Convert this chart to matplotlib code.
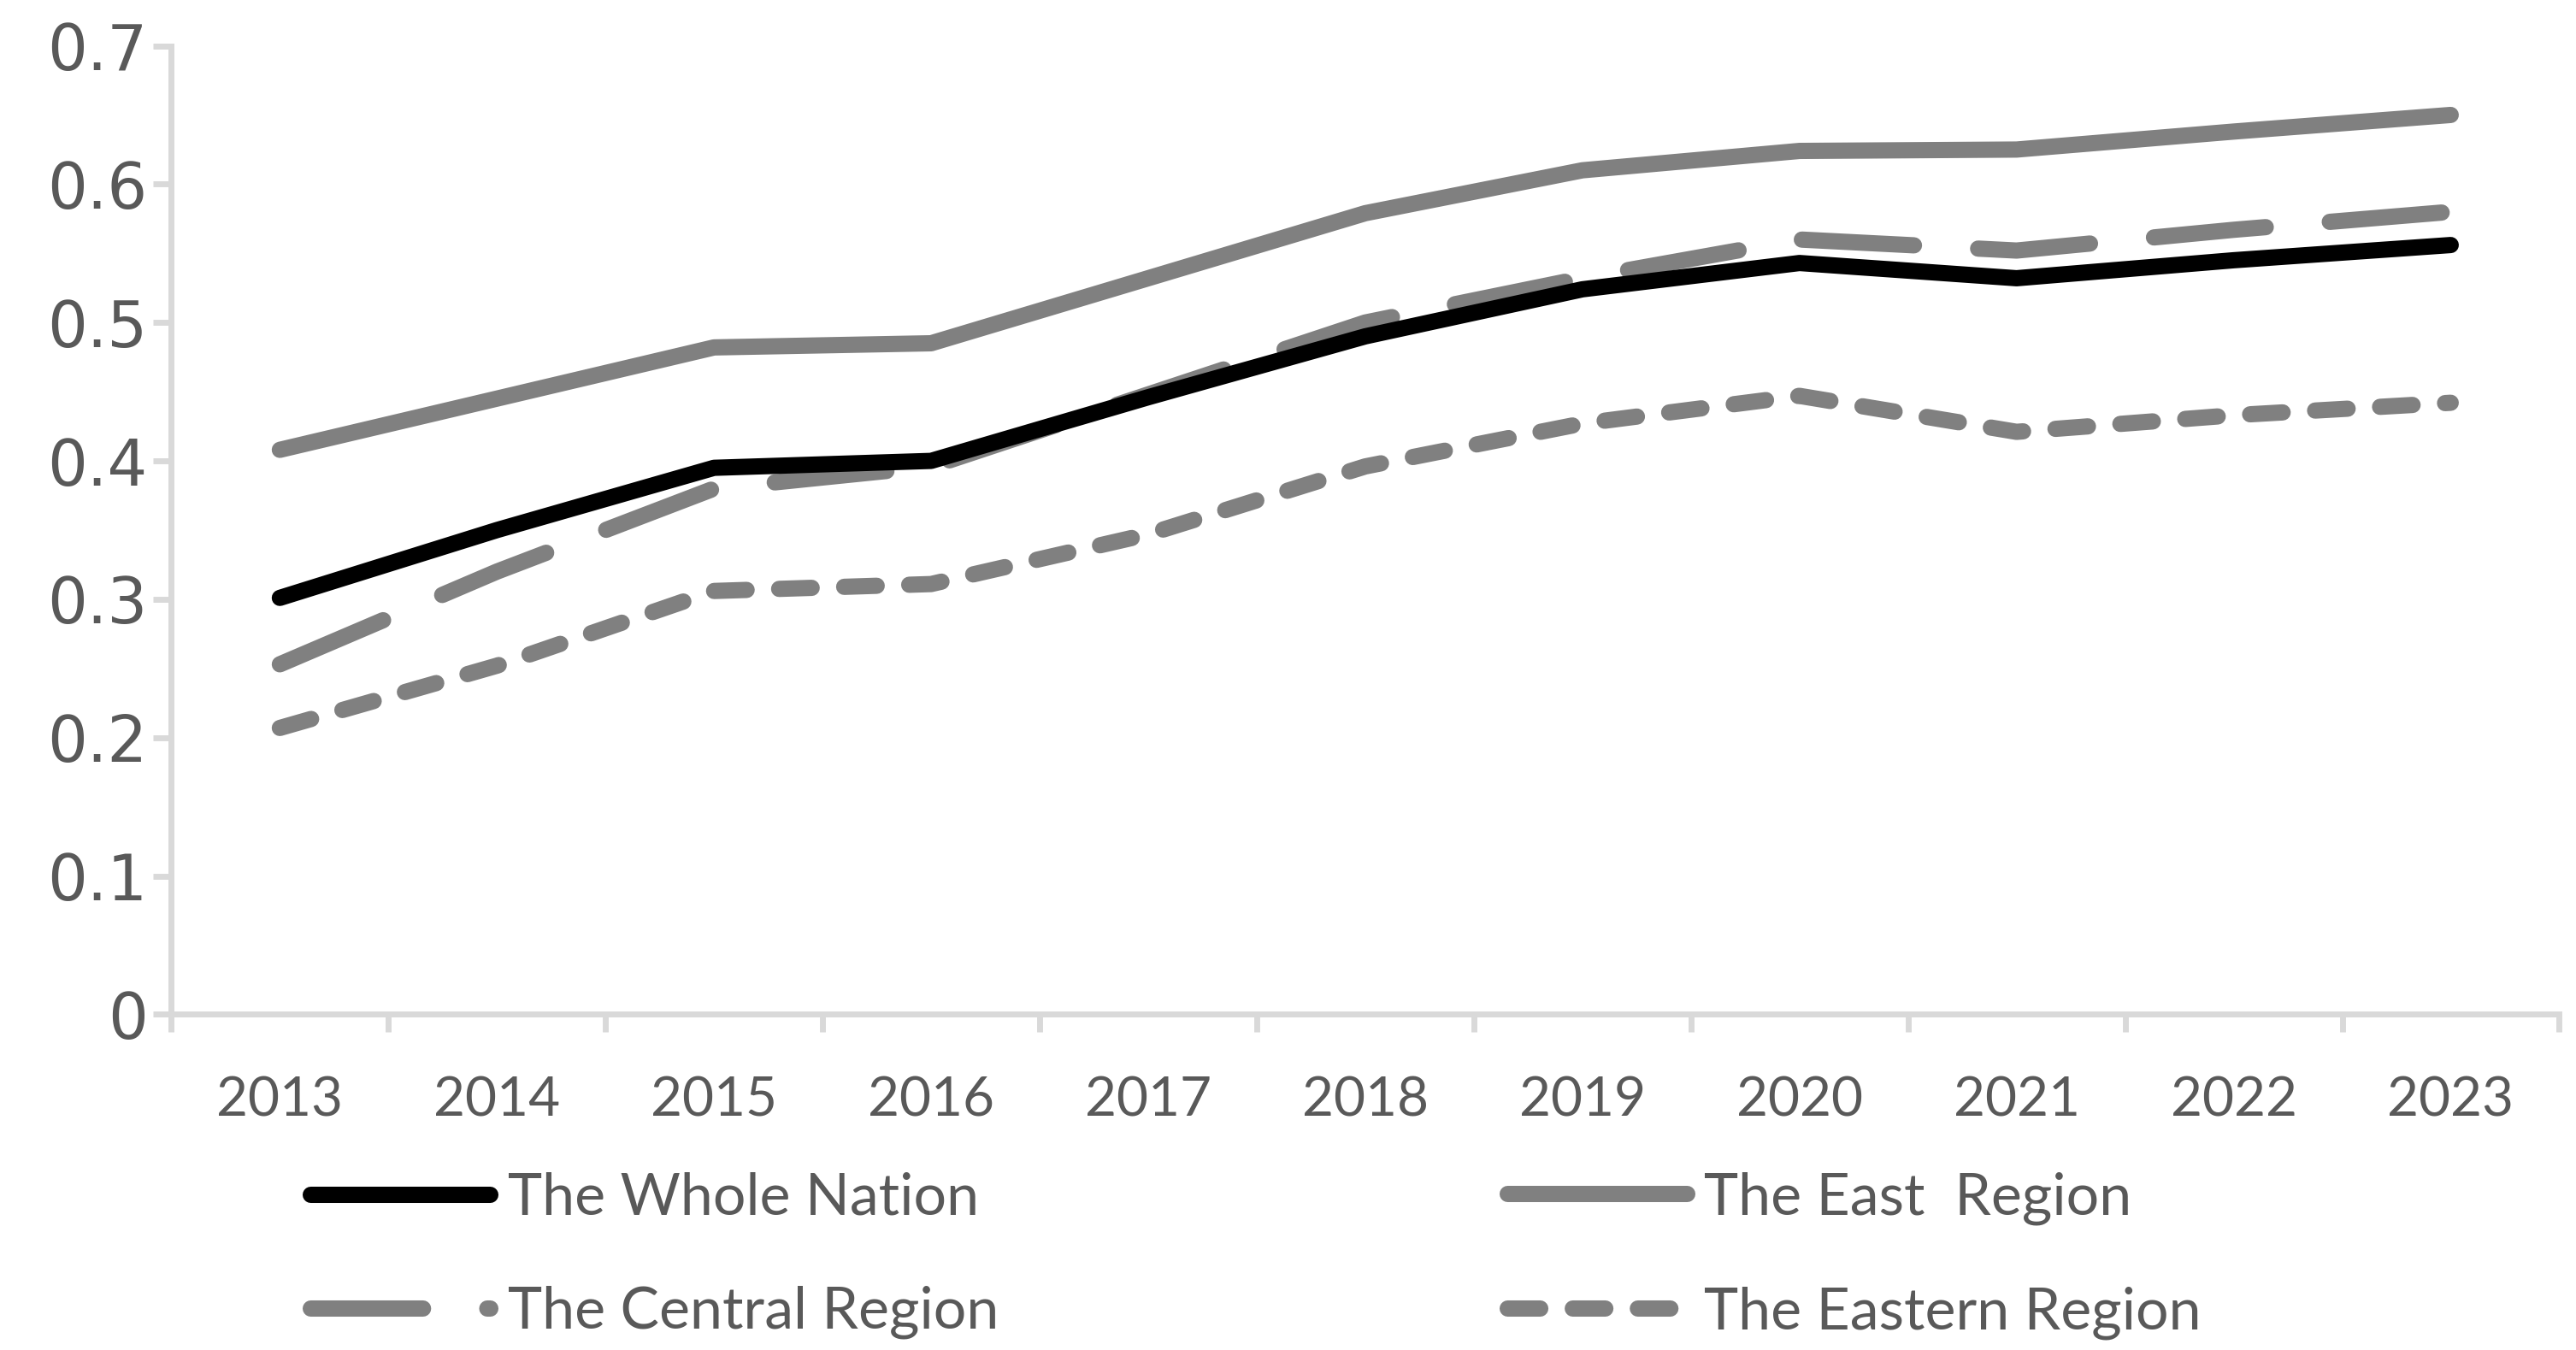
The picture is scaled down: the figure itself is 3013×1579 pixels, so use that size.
import numpy as np
import matplotlib
matplotlib.use("Agg")
import matplotlib.pyplot as plt

# values
years = ["2013", "2014", "2015", "2016", "2017", "2018", "2019", "2020", "2021", "2022", "2023"]
whole_nation = [0.301, 0.350, 0.395, 0.400, 0.446, 0.490, 0.524, 0.543, 0.532, 0.545, 0.556]
east_region = [0.408, 0.445, 0.482, 0.485, 0.532, 0.579, 0.610, 0.624, 0.625, 0.638, 0.650]
central_region = [0.253, 0.320, 0.380, 0.396, 0.448, 0.500, 0.532, 0.560, 0.552, 0.567, 0.580]
eastern_region = [0.207, 0.252, 0.306, 0.311, 0.347, 0.396, 0.427, 0.447, 0.421, 0.433, 0.442]
y_ticks = [0, 0.1, 0.2, 0.3, 0.4, 0.5, 0.6, 0.7]
y_tick_labels = ["0", "0.1", "0.2", "0.3", "0.4", "0.5", "0.6", "0.7"]

GRAY = "#808080"
TEXT = "#595959"
AXIS = "#D9D9D9"
LW = 13.7

fig = plt.figure(figsize=(30.13, 15.79), dpi=100)
ax = fig.add_axes([0.0665, 0.2486, 0.9270, 0.7175])

x = np.arange(len(years))
common = dict(solid_capstyle="round", dash_capstyle="round", solid_joinstyle="round",
              dash_joinstyle="round")

l_whole, = ax.plot(x, whole_nation, color="black", lw=LW, label="The Whole Nation", zorder=4, **common)
l_east, = ax.plot(x, east_region, color=GRAY, lw=LW, label="The East  Region", zorder=3, **common)
l_central, = ax.plot(x, central_region, color=GRAY, lw=LW, dashes=(6.9, 3.95),
                     label="The Central Region", zorder=3, **common)
l_eastern, = ax.plot(x, eastern_region, color=GRAY, lw=LW, dashes=(2.0, 2.0),
                     label="The Eastern Region", zorder=3, **common)

ax.set_xlim(-0.5, len(years) - 0.5)
ax.set_ylim(0, 0.7)

# category boundaries get the ticks, labels sit in the middle
ax.set_xticks(np.arange(-0.5, len(years), 1.0))
ax.set_xticklabels([])
ax.set_xticks(x, minor=True)
ax.set_xticklabels(years, minor=True, fontfamily="Lato", fontsize=46, color=TEXT)
ax.tick_params(axis="x", which="major", length=15, width=5, color=AXIS, direction="out")
ax.tick_params(axis="x", which="minor", length=0, pad=52)

ax.set_yticks(y_ticks)
ax.set_yticklabels(y_tick_labels, fontfamily="DejaVu Sans", fontsize=53, color=TEXT)
ax.tick_params(axis="y", length=15, width=5, color=AXIS, direction="out", pad=5)

for side in ["top", "right"]:
    ax.spines[side].set_visible(False)
for side in ["left", "bottom"]:
    ax.spines[side].set_color(AXIS)
    ax.spines[side].set_linewidth(5)

leg_kw = dict(loc="center left", frameon=False, borderpad=0, borderaxespad=0,
              handlelength=3.09, handletextpad=0.3, labelspacing=1.05,
              prop={"family": "Lato", "size": 49}, labelcolor=TEXT)
fig.legend(handles=[l_whole, l_central], bbox_to_anchor=(0.1205, 0.0700), **leg_kw)
fig.legend(handles=[l_east, l_eastern], bbox_to_anchor=(0.585, 0.0700), **leg_kw)

fig.savefig("out.png", dpi=100)
